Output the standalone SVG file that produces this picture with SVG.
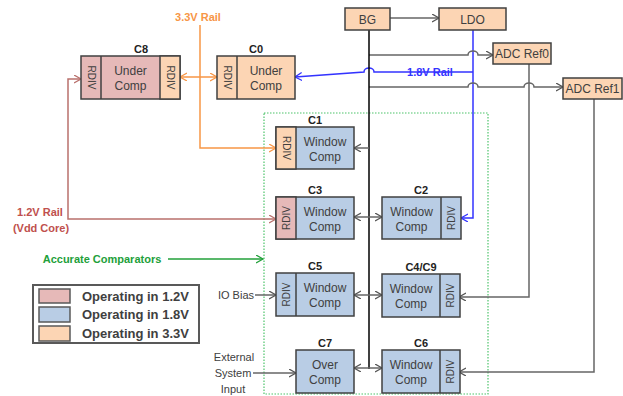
<svg xmlns="http://www.w3.org/2000/svg" width="623" height="396" viewBox="0 0 623 396">
<style>
.bx{stroke:#404040;stroke-width:1.5}
.pk{fill:#e6b9b8}.bl{fill:#b9cde5}.pc{fill:#fcd5b4}
.dv{stroke:#404040;stroke-width:1.5}
.t{font-family:"Liberation Sans",Arial,sans-serif;font-size:12px;fill:#404040;text-anchor:middle}
.r{font-family:"Liberation Sans",Arial,sans-serif;font-size:10px;fill:#404040;text-anchor:middle;dominant-baseline:central}
.lb{font-family:"Liberation Sans",Arial,sans-serif;font-size:11px;font-weight:bold;fill:#222;text-anchor:middle}
.c{fill:none;stroke-width:1.5}
.g{stroke:#666}
.lg{font-family:"Liberation Sans",Arial,sans-serif;font-size:13px;font-weight:bold;fill:#404040}
</style>
<defs>
<marker id="aG" markerUnits="userSpaceOnUse" markerWidth="10" markerHeight="10" refX="7" refY="4" orient="auto-start-reverse"><path d="M0,0 L7,4 L0,8" fill="none" stroke="#555" stroke-width="1.3"/></marker>
<marker id="aO" markerUnits="userSpaceOnUse" markerWidth="10" markerHeight="10" refX="7" refY="4" orient="auto-start-reverse"><path d="M0,0 L7,4 L0,8" fill="none" stroke="#f79646" stroke-width="1.3"/></marker>
<marker id="aP" markerUnits="userSpaceOnUse" markerWidth="10" markerHeight="10" refX="7" refY="4" orient="auto-start-reverse"><path d="M0,0 L7,4 L0,8" fill="none" stroke="#b9706c" stroke-width="1.3"/></marker>
<marker id="aB" markerUnits="userSpaceOnUse" markerWidth="10" markerHeight="10" refX="7" refY="4" orient="auto-start-reverse"><path d="M0,0 L7,4 L0,8" fill="none" stroke="#3333ff" stroke-width="1.3"/></marker>
<marker id="aN" markerUnits="userSpaceOnUse" markerWidth="10" markerHeight="10" refX="7" refY="4" orient="auto-start-reverse"><path d="M0,0 L7,4 L0,8" fill="none" stroke="#22a03a" stroke-width="1.3"/></marker>
</defs>
<rect width="623" height="396" fill="#fff"/>

<!-- group boundary -->
<rect x="264" y="113" width="224" height="281" fill="none" stroke="#4cc36a" stroke-width="1.2" stroke-dasharray="1.5 1.5"/>

<g id="connectors">
<path class="c g" d="M390,18 H439" marker-end="url(#aG)"/>
<path class="c" stroke="#3333ff" d="M473,30 V218 H461" marker-end="url(#aB)"/>
<path class="c g" d="M369,55 H468 a5,4 0 0 1 10,0 H493" marker-end="url(#aG)"/>
<path class="c g" d="M369,87 H468 a5,4 0 0 1 10,0 H524 a5,4 0 0 1 10,0 H563" marker-end="url(#aG)"/>
<path class="c" stroke="#3333ff" d="M473,72 H374 a5,4 0 0 0 -10,0 L295,77" marker-end="url(#aB)"/>
<path class="c g" stroke="#7a7a7a" d="M529,64 V297 H459" marker-end="url(#aG)"/>
<path class="c g" stroke="#7a7a7a" d="M594,99 V372 H459" marker-end="url(#aG)"/>
<path class="c" stroke="#f79646" d="M200,25 V148 H276" marker-end="url(#aO)"/>
<path class="c" stroke="#f79646" d="M180,77 H217" marker-start="url(#aO)" marker-end="url(#aO)"/>
<path class="c" stroke="#b9706c" d="M81,79 H68 V219 H276" marker-start="url(#aP)" marker-end="url(#aP)"/>
<path class="c" stroke="#000" stroke-width="2" d="M369,30 V369"/>
<path class="c g" d="M369,148 H354" marker-end="url(#aG)"/>
<path class="c g" d="M354,217 H382" marker-start="url(#aG)" marker-end="url(#aG)"/>
<path class="c g" d="M354,295 H382" marker-start="url(#aG)" marker-end="url(#aG)"/>
<path class="c g" d="M354,368 H382" marker-start="url(#aG)" marker-end="url(#aG)"/>
<path class="c g" d="M255,295 H276" marker-end="url(#aG)"/>
<path class="c g" d="M253,373 H296" marker-end="url(#aG)"/>
<path class="c" stroke="#22a03a" d="M168,259 H263" marker-end="url(#aN)"/>
</g>

<g id="labels" font-family="Liberation Sans, Arial, sans-serif" font-weight="bold" font-size="11">
<text x="198" y="21" fill="#f79646" text-anchor="middle">3.3V Rail</text>
<text x="430" y="76" fill="#3333ff" text-anchor="middle">1.8V Rail</text>
<text x="40" y="216" fill="#c0504d" text-anchor="middle">1.2V Rail</text>
<text x="41" y="232" fill="#c0504d" text-anchor="middle">(Vdd Core)</text>
<text x="102" y="263" fill="#22a03a" text-anchor="middle">Accurate Comparators</text>
</g>
<g id="inputs" font-family="Liberation Sans, Arial, sans-serif" font-size="11" fill="#404040" text-anchor="middle">
<text x="236" y="299">IO Bias</text>
<text x="234" y="361">External</text>
<text x="233" y="377">System</text>
<text x="233" y="393">Input</text>
</g>

<g id="BG"><rect class="bx pc" x="345" y="8" width="45" height="22"/><text class="t" x="367.5" y="23.5">BG</text></g>
<g id="LDO"><rect class="bx pc" x="439" y="8" width="67" height="22"/><text class="t" x="472.5" y="23.5">LDO</text></g>
<g id="ADCRef0"><rect class="bx pc" x="493" y="43" width="58" height="21"/><text class="t" x="522" y="58" font-size="11">ADC Ref0</text></g>
<g id="ADCRef1"><rect class="bx pc" x="563" y="78" width="59" height="21"/><text class="t" x="592.5" y="93" font-size="11">ADC Ref1</text></g>

<g id="C8">
<rect class="bx pk" x="81" y="56" width="99" height="43"/>
<rect class="bx pc" x="160" y="56" width="20" height="43"/>
<line class="dv" x1="101" y1="56" x2="101" y2="99"/>
<text class="r" transform="translate(91,77.5) rotate(90)">RDIV</text>
<text class="r" transform="translate(170,77.5) rotate(90)">RDIV</text>
<text class="t" x="130.5" y="75">Under</text><text class="t" x="130.5" y="90">Comp</text>
<text class="lb" x="141" y="53">C8</text>
</g>
<g id="C0">
<rect class="bx pc" x="217" y="56" width="78" height="43"/>
<line class="dv" x1="237" y1="56" x2="237" y2="99"/>
<text class="r" transform="translate(227,77.5) rotate(90)">RDIV</text>
<text class="t" x="266" y="75">Under</text><text class="t" x="266" y="90">Comp</text>
<text class="lb" x="256" y="53">C0</text>
</g>
<g id="C1">
<rect class="bx bl" x="276" y="127" width="78" height="42"/>
<rect class="bx pc" x="276" y="127" width="20" height="42"/>
<text class="r" transform="translate(286,148) rotate(90)">RDIV</text>
<text class="t" x="325" y="146">Window</text><text class="t" x="325" y="161">Comp</text>
<text class="lb" x="315" y="124">C1</text>
</g>
<g id="C3">
<rect class="bx bl" x="276" y="197" width="78" height="42"/>
<rect class="bx pk" x="276" y="197" width="20" height="42"/>
<text class="r" transform="translate(286,218) rotate(-90)">RDIV</text>
<text class="t" x="325" y="216">Window</text><text class="t" x="325" y="231">Comp</text>
<text class="lb" x="315" y="194">C3</text>
</g>
<g id="C5">
<rect class="bx bl" x="276" y="273" width="78" height="43"/>
<line class="dv" x1="296" y1="273" x2="296" y2="316"/>
<text class="r" transform="translate(286,294.5) rotate(-90)">RDIV</text>
<text class="t" x="325" y="292">Window</text><text class="t" x="325" y="307">Comp</text>
<text class="lb" x="315" y="270">C5</text>
</g>
<g id="C7">
<rect class="bx bl" x="296" y="350" width="58" height="43"/>
<text class="t" x="325" y="369">Over</text><text class="t" x="325" y="384">Comp</text>
<text class="lb" x="325" y="347">C7</text>
</g>
<g id="C2">
<rect class="bx bl" x="382" y="197" width="79" height="42"/>
<line class="dv" x1="441" y1="197" x2="441" y2="239"/>
<text class="r" transform="translate(451,218) rotate(-90)">RDIV</text>
<text class="t" x="411.5" y="216">Window</text><text class="t" x="411.5" y="231">Comp</text>
<text class="lb" x="421" y="194">C2</text>
</g>
<g id="C4C9">
<rect class="bx bl" x="382" y="274" width="78" height="43"/>
<line class="dv" x1="440" y1="274" x2="440" y2="317"/>
<text class="r" transform="translate(450,295.5) rotate(-90)">RDIV</text>
<text class="t" x="411" y="293">Window</text><text class="t" x="411" y="308">Comp</text>
<text class="lb" x="421" y="271">C4/C9</text>
</g>
<g id="C6">
<rect class="bx bl" x="382" y="350" width="78" height="43"/>
<line class="dv" x1="440" y1="350" x2="440" y2="393"/>
<text class="r" transform="translate(450,371.5) rotate(-90)">RDIV</text>
<text class="t" x="411" y="369">Window</text><text class="t" x="411" y="384">Comp</text>
<text class="lb" x="421" y="347">C6</text>
</g>

<g id="legend">
<rect x="33" y="285" width="166" height="58" fill="#fff" stroke="#595959" stroke-width="2"/>
<rect x="39" y="289" width="31" height="14" class="pk" stroke="#595959" stroke-width="1.5"/>
<rect x="39" y="307" width="31" height="15" class="bl" stroke="#595959" stroke-width="1.5"/>
<rect x="39" y="326" width="31" height="15" class="pc" stroke="#595959" stroke-width="1.5"/>
<text class="lg" x="82" y="301">Operating in 1.2V</text>
<text class="lg" x="82" y="319">Operating in 1.8V</text>
<text class="lg" x="82" y="338">Operating in 3.3V</text>
</g>
</svg>
